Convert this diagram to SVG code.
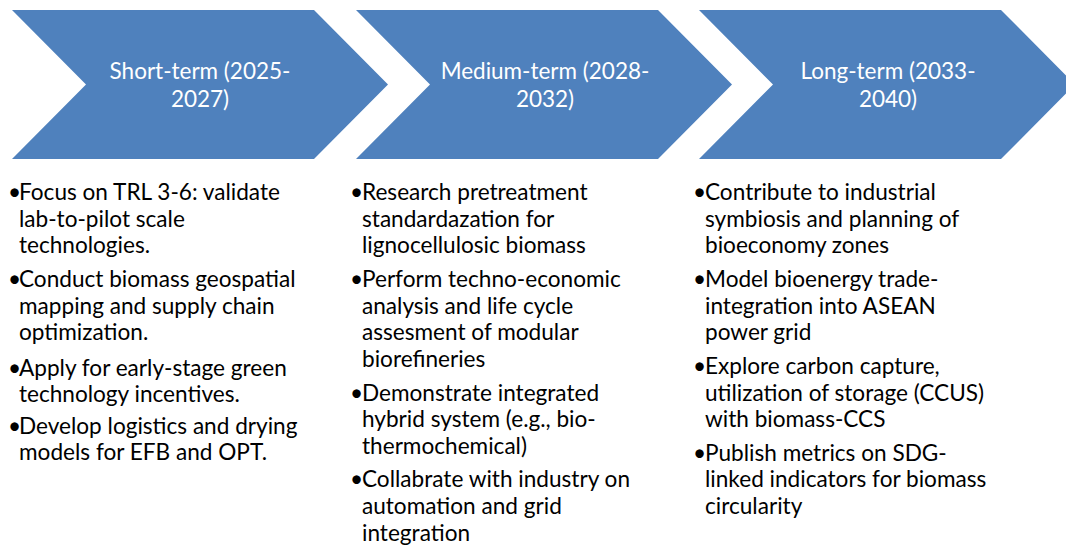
<svg xmlns="http://www.w3.org/2000/svg" width="1066" height="547" viewBox="0 0 1066 547">
  <style>
    .chev { fill: #4F81BD; }
    .head { font-family: Lato, "Open Sans", sans-serif; font-size: 22.5px; fill: #ffffff; text-anchor: middle; }
    .body { font-family: Lato, "Open Sans", sans-serif; font-size: 22.6px; fill: #000000; }
  </style>
  <rect width="1066" height="547" fill="#ffffff"/>

  <!-- phase chevrons -->
  <g id="short-term">
    <polygon class="chev" points="12,10 314,10 388,84.5 314,159 12,159 86,84.5"/>
    <text class="head" x="200" y="79">Short-term (2025-</text>
    <text class="head" x="200" y="107">2027)</text>
  </g>
  <g id="medium-term">
    <polygon class="chev" points="356,10 658,10 732,84.5 658,159 356,159 430,84.5"/>
    <text class="head" x="545" y="79">Medium-term (2028-</text>
    <text class="head" x="545" y="107">2032)</text>
  </g>
  <g id="long-term">
    <polygon class="chev" points="699,10 1001,10 1075,84.5 1001,159 699,159 773,84.5"/>
    <text class="head" x="888" y="79">Long-term (2033-</text>
    <text class="head" x="888" y="107">2040)</text>
  </g>

  <!-- activity lists -->
  <g id="short-term-list" class="body">
    <text x="8" y="200">•</text>
    <text x="19" y="200">Focus on TRL 3-6: validate</text>
    <text x="19" y="226.7">lab-to-pilot scale</text>
    <text x="19" y="253.4">technologies.</text>
    <text x="8" y="286.9">•</text>
    <text x="19" y="286.9">Conduct biomass geospatial</text>
    <text x="19" y="313.6">mapping and supply chain</text>
    <text x="19" y="340.3">optimization.</text>
    <text x="8" y="375.5">•</text>
    <text x="19" y="375.5">Apply for early-stage green</text>
    <text x="19" y="402.2">technology incentives.</text>
    <text x="8" y="433.5">•</text>
    <text x="19" y="433.5">Develop logistics and drying</text>
    <text x="19" y="460.2">models for EFB and OPT.</text>
  </g>
  <g id="medium-term-list" class="body">
    <text x="350" y="200">•</text>
    <text x="362" y="200">Research pretreatment</text>
    <text x="362" y="226.7">standardazation for</text>
    <text x="362" y="253.4">lignocellulosic biomass</text>
    <text x="350" y="286.9">•</text>
    <text x="362" y="286.9">Perform techno-economic</text>
    <text x="362" y="313.6">analysis and life cycle</text>
    <text x="362" y="340.3">assesment of modular</text>
    <text x="362" y="367">biorefineries</text>
    <text x="350" y="400.5">•</text>
    <text x="362" y="400.5">Demonstrate integrated</text>
    <text x="362" y="427.2">hybrid system (e.g., bio-</text>
    <text x="362" y="453.9">thermochemical)</text>
    <text x="350" y="487.4">•</text>
    <text x="362" y="487.4">Collabrate with industry on</text>
    <text x="362" y="514.1">automation and grid</text>
    <text x="362" y="540.8">integration</text>
  </g>
  <g id="long-term-list" class="body">
    <text x="693" y="200">•</text>
    <text x="705" y="200">Contribute to industrial</text>
    <text x="705" y="226.7">symbiosis and planning of</text>
    <text x="705" y="253.4">bioeconomy zones</text>
    <text x="693" y="286.9">•</text>
    <text x="705" y="286.9">Model bioenergy trade-</text>
    <text x="705" y="313.6">integration into ASEAN</text>
    <text x="705" y="340.3">power grid</text>
    <text x="693" y="373.8">•</text>
    <text x="705" y="373.8">Explore carbon capture,</text>
    <text x="705" y="400.5">utilization of storage (CCUS)</text>
    <text x="705" y="427.2">with biomass-CCS</text>
    <text x="693" y="460.7">•</text>
    <text x="705" y="460.7">Publish metrics on SDG-</text>
    <text x="705" y="487.4">linked indicators for biomass</text>
    <text x="705" y="514.1">circularity</text>
  </g>
</svg>
